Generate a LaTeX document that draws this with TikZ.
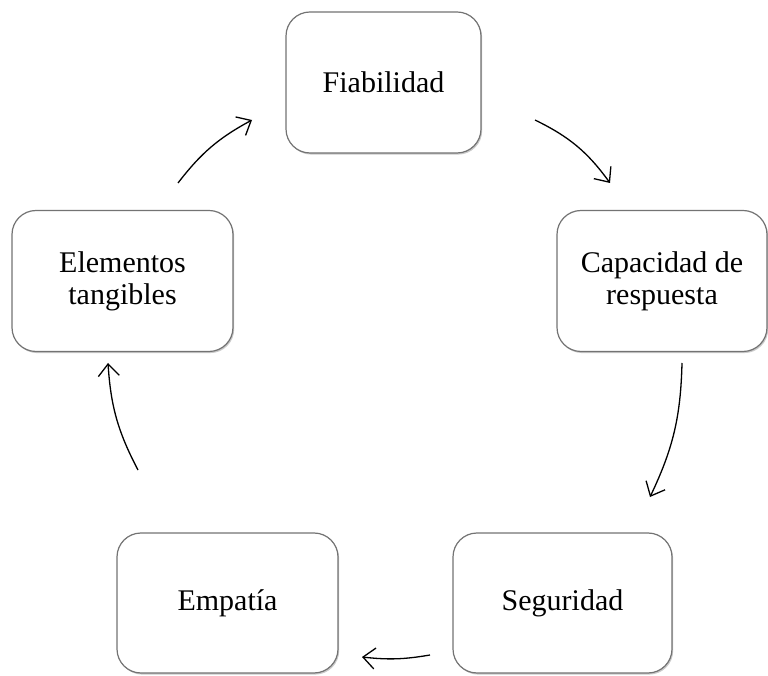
\documentclass[tikz,border=0pt]{standalone}
\usepackage{fontspec}
\setmainfont{Liberation Serif}
\usetikzlibrary{arrows.meta,shadows}

\tikzset{
  caja/.style={draw=black!55, line width=1.2pt, fill=white, rounded corners=24pt,
    minimum height=141pt, align=center, inner sep=4pt,
    font=\fontsize{30}{32}\selectfont,
    drop shadow={shadow xshift=1.2pt, shadow yshift=-1.6pt, opacity=0.35, fill=black!60}},
  flecha/.style={line width=1.3pt, -{Straight Barb[length=12pt,width=21pt,line width=1.3pt]}}
}

\begin{document}
\begin{tikzpicture}[x=1pt,y=1pt]

  \useasboundingbox (0,0) rectangle (768,675);

  \node[caja, minimum width=195pt] (fia) at (383.5,592.5) {Fiabilidad};
  \node[caja, minimum width=210pt] (cap) at (662,394) {Capacidad de\\respuesta};
  \node[caja, minimum width=221pt] (ele) at (122.5,394) {Elementos\\tangibles};
  \node[caja, minimum width=221pt, minimum height=140pt] (emp) at (227.5,72) {Empat\'ia};
  \node[caja, minimum width=219pt, minimum height=140pt] (seg) at (562.5,72) {Seguridad};

  \coordinate (fia-cap-a) at (535,555);
  \coordinate (fia-cap-b) at (610,492);
  \coordinate (cap-seg-a) at (682,312);
  \coordinate (cap-seg-b) at (650,178);
  \coordinate (seg-emp-a) at (430,20);
  \coordinate (seg-emp-b) at (362,18);
  \coordinate (emp-ele-a) at (138,205);
  \coordinate (emp-ele-b) at (108,312);
  \coordinate (ele-fia-a) at (178,492);
  \coordinate (ele-fia-b) at (252,555);

  \draw[flecha] (fia-cap-a) to[bend left=14] (fia-cap-b); %% fia -> cap
  \draw[flecha] (cap-seg-a) to[bend left=12] (cap-seg-b); %% cap -> seg
  \draw[flecha] (seg-emp-a) to[bend left=8] (seg-emp-b);  %% seg -> emp
  \draw[flecha] (emp-ele-a) to[bend left=12] (emp-ele-b); %% emp -> ele
  \draw[flecha] (ele-fia-a) to[bend left=12] (ele-fia-b); %% ele -> fia

\end{tikzpicture}
\end{document}
